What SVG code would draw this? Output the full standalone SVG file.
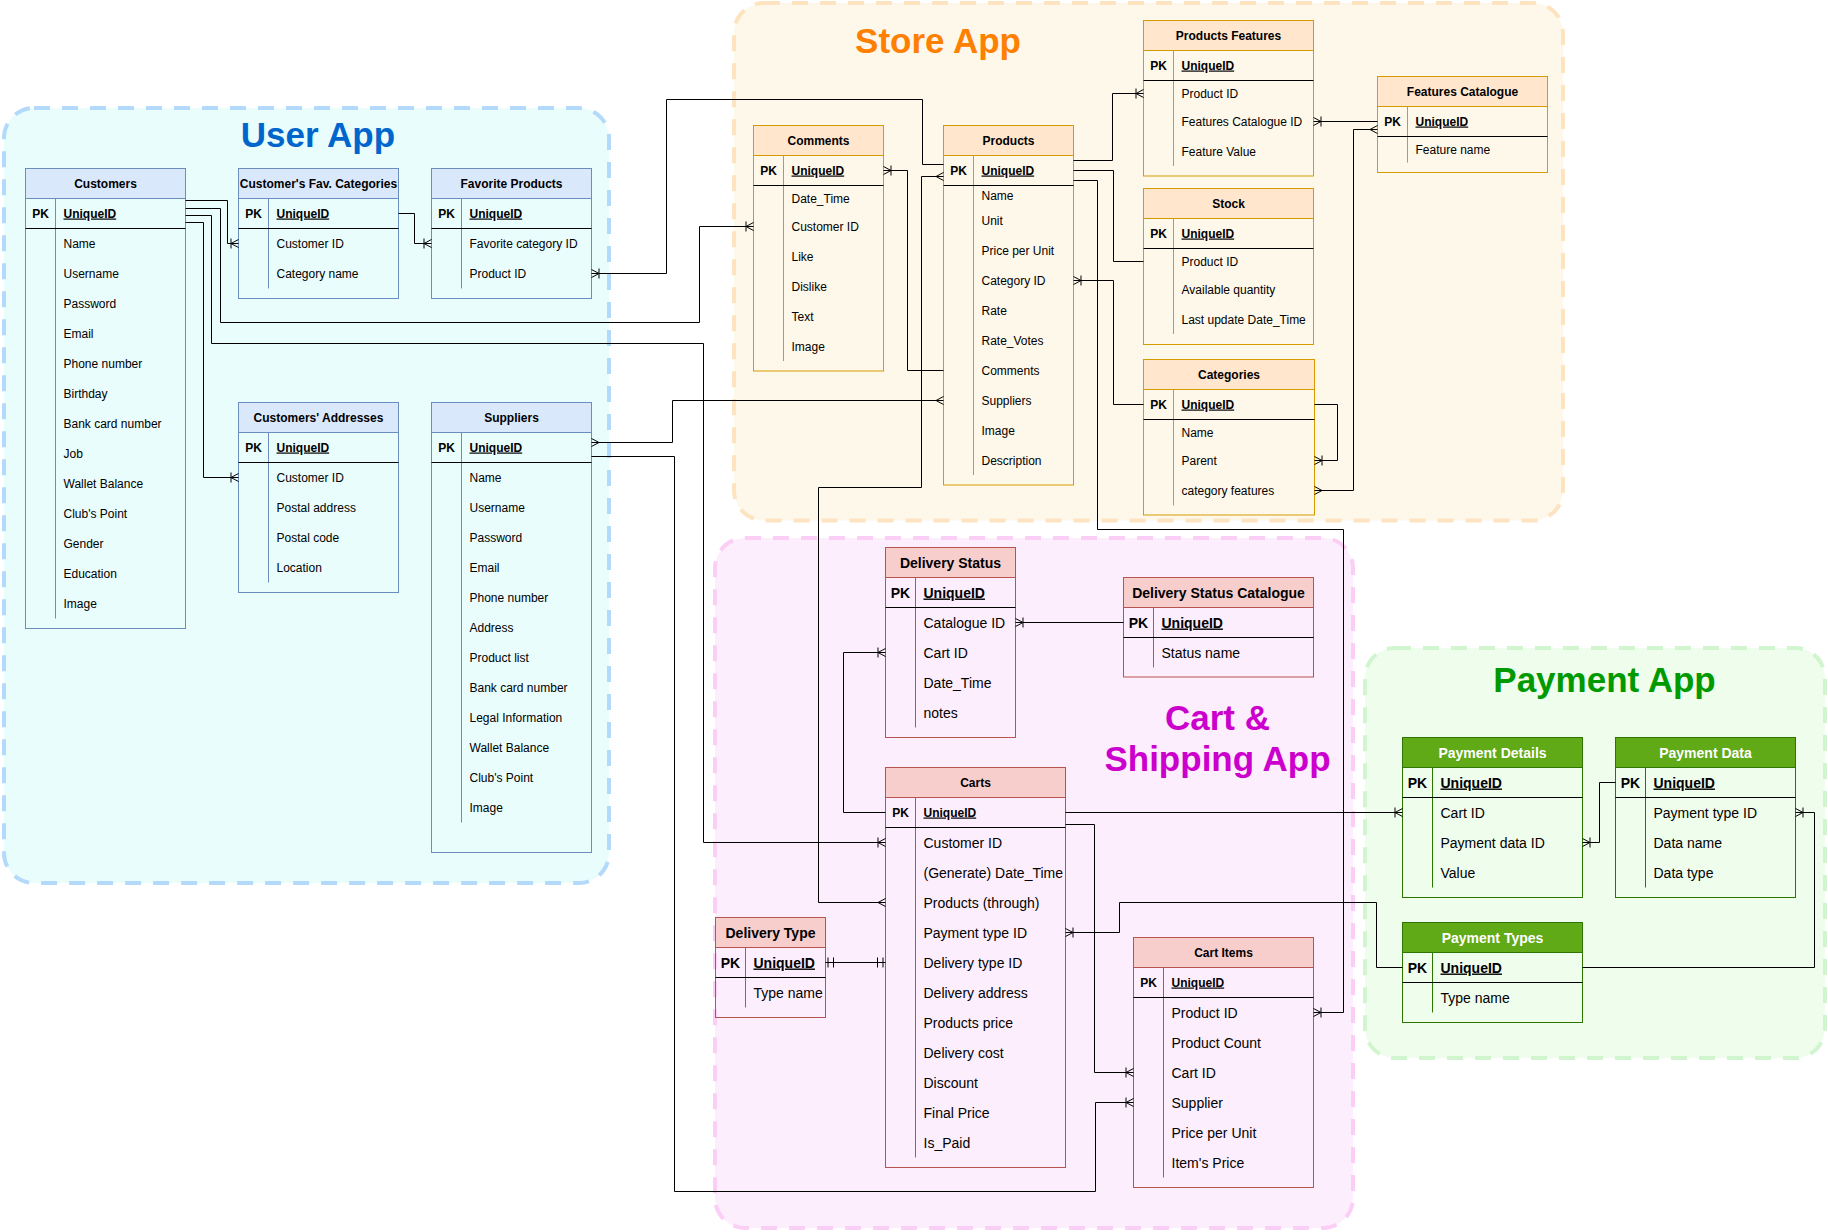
<svg xmlns="http://www.w3.org/2000/svg" width="1828" height="1232" viewBox="0 0 1828 1232">
<defs>
<style>
text{font-family:"Liberation Sans",Arial,Helvetica,sans-serif;fill:#000}
.h12{font-size:12px;font-weight:bold;text-anchor:middle}
.h14{font-size:14px;font-weight:bold;text-anchor:middle}
.pk12{font-size:12px;font-weight:bold;text-anchor:middle}
.pk14{font-size:14px;font-weight:bold;text-anchor:middle}
.u12{font-size:12px;font-weight:bold;text-decoration:underline}
.u14{font-size:14px;font-weight:bold;text-decoration:underline}
.a12{font-size:12px}
.a14{font-size:14px}
.white{fill:#fff}
.title{font-size:35px;font-weight:bold;text-anchor:middle}
.cont{stroke-width:4;stroke-dasharray:16 12}
.tb{fill:none;stroke-width:1}
.ub{stroke:#6c8ebf}.uh{fill:#dae8fc;stroke:#6c8ebf}
.sb{stroke:#d79b00}.sh{fill:#ffe6cc;stroke:#d79b00}
.cb{stroke:#b85450}.ch{fill:#f8cecc;stroke:#b85450}
.pb{stroke:#2d7600}.ph{fill:#60a917;stroke:#2d7600}
.pkl{stroke:#000;stroke-width:1}
.conn path{fill:none;stroke:#000;stroke-width:1}
</style>
<marker id="om" viewBox="-12 -7 14 14" refX="0" refY="0" markerWidth="14" markerHeight="14" markerUnits="userSpaceOnUse" orient="auto-start-reverse">
<path d="M-7.5,0 L0,-4 M-7.5,0 L0,4 M-7.5,-5 L-7.5,5" fill="none" stroke="#000" stroke-width="1"/>
</marker>
<marker id="m" viewBox="-12 -7 14 14" refX="0" refY="0" markerWidth="14" markerHeight="14" markerUnits="userSpaceOnUse" orient="auto-start-reverse">
<path d="M-7.5,0 L0,-4 M-7.5,0 L0,4" fill="none" stroke="#000" stroke-width="1"/>
</marker>
<marker id="one" viewBox="-12 -7 14 14" refX="0" refY="0" markerWidth="14" markerHeight="14" markerUnits="userSpaceOnUse" orient="auto-start-reverse">
<path d="M-2.5,-5 L-2.5,5 M-8,-5 L-8,5" fill="none" stroke="#000" stroke-width="1"/>
</marker>
</defs>

<!-- containers -->
<g id="user-app">
<rect class="cont" x="4" y="108" width="605" height="775" rx="30" fill="#e9fdfd" stroke="#b3dafa"/>
<text class="title" x="318" y="146.5" style="fill:#0066cc">User App</text>
</g>
<g id="store-app">
<rect class="cont" x="734" y="3" width="829" height="517.5" rx="30" fill="#fef8ea" stroke="#fde3c0"/>
<text class="title" x="938" y="53" style="fill:#ff8000">Store App</text>
</g>
<g id="cart-app">
<rect class="cont" x="715" y="538" width="638" height="690" rx="30" fill="#fdeefd" stroke="#fbcff5"/>
<text class="title" x="1217.5" y="730" style="fill:#cc00cc">Cart &amp;</text>
<text class="title" x="1217.5" y="770.5" style="fill:#cc00cc">Shipping App</text>
</g>
<g id="payment-app">
<rect class="cont" x="1365" y="648" width="460" height="410" rx="30" fill="#effdec" stroke="#d1f5cf"/>
<text class="title" x="1604.5" y="692" style="fill:#009900">Payment App</text>
</g>

<!-- User App tables -->
<g id="customers">
<rect class="tb ub" x="25.5" y="168.5" width="160" height="460"/>
<rect class="uh" x="25.5" y="168.5" width="160" height="30"/>
<line class="ub" x1="55.5" y1="198.5" x2="55.5" y2="618.5"/>
<line class="pkl" x1="25.5" y1="228.5" x2="185.5" y2="228.5"/>
<text class="h12" x="105.5" y="187.5">Customers</text>
<text class="pk12" x="40.5" y="217.5">PK</text>
<text class="u12" x="63.5" y="217.5">UniqueID</text>
<text class="a12" x="63.5" y="247.5">Name</text>
<text class="a12" x="63.5" y="277.5">Username</text>
<text class="a12" x="63.5" y="307.5">Password</text>
<text class="a12" x="63.5" y="337.5">Email</text>
<text class="a12" x="63.5" y="367.5">Phone number</text>
<text class="a12" x="63.5" y="397.5">Birthday</text>
<text class="a12" x="63.5" y="427.5">Bank card number</text>
<text class="a12" x="63.5" y="457.5">Job</text>
<text class="a12" x="63.5" y="487.5">Wallet Balance</text>
<text class="a12" x="63.5" y="517.5">Club's Point</text>
<text class="a12" x="63.5" y="547.5">Gender</text>
<text class="a12" x="63.5" y="577.5">Education</text>
<text class="a12" x="63.5" y="607.5">Image</text>
</g>
<g id="fav-categories">
<rect class="tb ub" x="238.5" y="168.5" width="160" height="130"/>
<rect class="uh" x="238.5" y="168.5" width="160" height="30"/>
<line class="ub" x1="268.5" y1="198.5" x2="268.5" y2="288.5"/>
<line class="pkl" x1="238.5" y1="228.5" x2="398.5" y2="228.5"/>
<text class="h12" x="318.5" y="187.5">Customer's Fav. Categories</text>
<text class="pk12" x="253.5" y="217.5">PK</text>
<text class="u12" x="276.5" y="217.5">UniqueID</text>
<text class="a12" x="276.5" y="247.5">Customer ID</text>
<text class="a12" x="276.5" y="277.5">Category name</text>
</g>
<g id="fav-products">
<rect class="tb ub" x="431.5" y="168.5" width="160" height="130"/>
<rect class="uh" x="431.5" y="168.5" width="160" height="30"/>
<line class="ub" x1="461.5" y1="198.5" x2="461.5" y2="288.5"/>
<line class="pkl" x1="431.5" y1="228.5" x2="591.5" y2="228.5"/>
<text class="h12" x="511.5" y="187.5">Favorite Products</text>
<text class="pk12" x="446.5" y="217.5">PK</text>
<text class="u12" x="469.5" y="217.5">UniqueID</text>
<text class="a12" x="469.5" y="247.5">Favorite category ID</text>
<text class="a12" x="469.5" y="277.5">Product ID</text>
</g>
<g id="addresses">
<rect class="tb ub" x="238.5" y="402.5" width="160" height="190"/>
<rect class="uh" x="238.5" y="402.5" width="160" height="30"/>
<line class="ub" x1="268.5" y1="432.5" x2="268.5" y2="582.5"/>
<line class="pkl" x1="238.5" y1="462.5" x2="398.5" y2="462.5"/>
<text class="h12" x="318.5" y="421.5">Customers' Addresses</text>
<text class="pk12" x="253.5" y="451.5">PK</text>
<text class="u12" x="276.5" y="451.5">UniqueID</text>
<text class="a12" x="276.5" y="481.5">Customer ID</text>
<text class="a12" x="276.5" y="511.5">Postal address</text>
<text class="a12" x="276.5" y="541.5">Postal code</text>
<text class="a12" x="276.5" y="571.5">Location</text>
</g>
<g id="suppliers">
<rect class="tb ub" x="431.5" y="402.5" width="160" height="450"/>
<rect class="uh" x="431.5" y="402.5" width="160" height="30"/>
<line class="ub" x1="461.5" y1="432.5" x2="461.5" y2="822.5"/>
<line class="pkl" x1="431.5" y1="462.5" x2="591.5" y2="462.5"/>
<text class="h12" x="511.5" y="421.5">Suppliers</text>
<text class="pk12" x="446.5" y="451.5">PK</text>
<text class="u12" x="469.5" y="451.5">UniqueID</text>
<text class="a12" x="469.5" y="481.5">Name</text>
<text class="a12" x="469.5" y="511.5">Username</text>
<text class="a12" x="469.5" y="541.5">Password</text>
<text class="a12" x="469.5" y="571.5">Email</text>
<text class="a12" x="469.5" y="601.5">Phone number</text>
<text class="a12" x="469.5" y="631.5">Address</text>
<text class="a12" x="469.5" y="661.5">Product list</text>
<text class="a12" x="469.5" y="691.5">Bank card number</text>
<text class="a12" x="469.5" y="721.5">Legal Information</text>
<text class="a12" x="469.5" y="751.5">Wallet Balance</text>
<text class="a12" x="469.5" y="781.5">Club's Point</text>
<text class="a12" x="469.5" y="811.5">Image</text>
</g>

<!-- Store App tables -->
<g id="comments">
<rect class="tb sb" x="753.5" y="125.5" width="130" height="245.5"/>
<rect class="sh" x="753.5" y="125.5" width="130" height="30"/>
<line class="sb" x1="783.5" y1="155.5" x2="783.5" y2="361"/>
<line class="pkl" x1="753.5" y1="185.5" x2="883.5" y2="185.5"/>
<text class="h12" x="818.5" y="144.5">Comments</text>
<text class="pk12" x="768.5" y="174.5">PK</text>
<text class="u12" x="791.5" y="174.5">UniqueID</text>
<text class="a12" x="791.5" y="202.5">Date_Time</text>
<text class="a12" x="791.5" y="230.5">Customer ID</text>
<text class="a12" x="791.5" y="260.5">Like</text>
<text class="a12" x="791.5" y="290.5">Dislike</text>
<text class="a12" x="791.5" y="320.5">Text</text>
<text class="a12" x="791.5" y="350.5">Image</text>
</g>
<g id="products">
<rect class="tb sb" x="943.5" y="125.5" width="130" height="359.5"/>
<rect class="sh" x="943.5" y="125.5" width="130" height="30"/>
<line class="sb" x1="973.5" y1="155.5" x2="973.5" y2="475"/>
<line class="pkl" x1="943.5" y1="185.5" x2="1073.5" y2="185.5"/>
<text class="h12" x="1008.5" y="144.5">Products</text>
<text class="pk12" x="958.5" y="174.5">PK</text>
<text class="u12" x="981.5" y="174.5">UniqueID</text>
<text class="a12" x="981.5" y="199.5">Name</text>
<text class="a12" x="981.5" y="224.5">Unit</text>
<text class="a12" x="981.5" y="254.5">Price per Unit</text>
<text class="a12" x="981.5" y="284.5">Category ID</text>
<text class="a12" x="981.5" y="314.5">Rate</text>
<text class="a12" x="981.5" y="344.5">Rate_Votes</text>
<text class="a12" x="981.5" y="374.5">Comments</text>
<text class="a12" x="981.5" y="404.5">Suppliers</text>
<text class="a12" x="981.5" y="434.5">Image</text>
<text class="a12" x="981.5" y="464.5">Description</text>
</g>
<g id="products-features">
<rect class="tb sb" x="1143.5" y="20.5" width="170" height="155.5"/>
<rect class="sh" x="1143.5" y="20.5" width="170" height="30"/>
<line class="sb" x1="1173.5" y1="50.5" x2="1173.5" y2="166"/>
<line class="pkl" x1="1143.5" y1="80.5" x2="1313.5" y2="80.5"/>
<text class="h12" x="1228.5" y="39.5">Products Features</text>
<text class="pk12" x="1158.5" y="69.5">PK</text>
<text class="u12" x="1181.5" y="69.5">UniqueID</text>
<text class="a12" x="1181.5" y="97.5">Product ID</text>
<text class="a12" x="1181.5" y="125.5">Features Catalogue ID</text>
<text class="a12" x="1181.5" y="155.5">Feature Value</text>
</g>
<g id="stock">
<rect class="tb sb" x="1143.5" y="188.5" width="170" height="156"/>
<rect class="sh" x="1143.5" y="188.5" width="170" height="30"/>
<line class="sb" x1="1173.5" y1="218.5" x2="1173.5" y2="334"/>
<line class="pkl" x1="1143.5" y1="248.5" x2="1313.5" y2="248.5"/>
<text class="h12" x="1228.5" y="207.5">Stock</text>
<text class="pk12" x="1158.5" y="237.5">PK</text>
<text class="u12" x="1181.5" y="237.5">UniqueID</text>
<text class="a12" x="1181.5" y="265.5">Product ID</text>
<text class="a12" x="1181.5" y="293.5">Available quantity</text>
<text class="a12" x="1181.5" y="323.5">Last update Date_Time</text>
</g>
<g id="categories">
<rect class="tb sb" x="1143.5" y="359.5" width="171" height="155.5"/>
<rect class="sh" x="1143.5" y="359.5" width="171" height="30"/>
<line class="sb" x1="1173.5" y1="389.5" x2="1173.5" y2="505.5"/>
<line class="pkl" x1="1143.5" y1="419.5" x2="1314.5" y2="419.5"/>
<text class="h12" x="1229" y="378.5">Categories</text>
<text class="pk12" x="1158.5" y="408.5">PK</text>
<text class="u12" x="1181.5" y="408.5">UniqueID</text>
<text class="a12" x="1181.5" y="436.5">Name</text>
<text class="a12" x="1181.5" y="464.5">Parent</text>
<text class="a12" x="1181.5" y="494.5">category features</text>
</g>
<g id="features-catalogue">
<rect class="tb sb" x="1377.5" y="76.5" width="170" height="96"/>
<rect class="sh" x="1377.5" y="76.5" width="170" height="30"/>
<line class="sb" x1="1407.5" y1="106.5" x2="1407.5" y2="162.5"/>
<line class="pkl" x1="1377.5" y1="136.5" x2="1547.5" y2="136.5"/>
<text class="h12" x="1462.5" y="95.5">Features Catalogue</text>
<text class="pk12" x="1392.5" y="125.5">PK</text>
<text class="u12" x="1415.5" y="125.5">UniqueID</text>
<text class="a12" x="1415.5" y="153.5">Feature name</text>
</g>

<!-- Cart & Shipping tables -->
<g id="delivery-status">
<rect class="tb cb" x="885.5" y="547.5" width="130" height="190"/>
<rect class="ch" x="885.5" y="547.5" width="130" height="30"/>
<line class="cb" x1="915.5" y1="577.5" x2="915.5" y2="727.5"/>
<line class="pkl" x1="885.5" y1="607.5" x2="1015.5" y2="607.5"/>
<text class="h14" x="950.5" y="567.5">Delivery Status</text>
<text class="pk14" x="900.5" y="597.5">PK</text>
<text class="u14" x="923.5" y="597.5">UniqueID</text>
<text class="a14" x="923.5" y="627.5">Catalogue ID</text>
<text class="a14" x="923.5" y="657.5">Cart ID</text>
<text class="a14" x="923.5" y="687.5">Date_Time</text>
<text class="a14" x="923.5" y="717.5">notes</text>
</g>
<g id="delivery-status-catalogue">
<rect class="tb cb" x="1123.5" y="577.5" width="190" height="99.5"/>
<rect class="ch" x="1123.5" y="577.5" width="190" height="30"/>
<line class="cb" x1="1153.5" y1="607.5" x2="1153.5" y2="667.5"/>
<line class="pkl" x1="1123.5" y1="637.5" x2="1313.5" y2="637.5"/>
<text class="h14" x="1218.5" y="597.5">Delivery Status Catalogue</text>
<text class="pk14" x="1138.5" y="627.5">PK</text>
<text class="u14" x="1161.5" y="627.5">UniqueID</text>
<text class="a14" x="1161.5" y="657.5">Status name</text>
</g>
<g id="carts">
<rect class="tb cb" x="885.5" y="767.5" width="180" height="400"/>
<rect class="ch" x="885.5" y="767.5" width="180" height="30"/>
<line class="cb" x1="915.5" y1="797.5" x2="915.5" y2="1157.5"/>
<line class="pkl" x1="885.5" y1="827.5" x2="1065.5" y2="827.5"/>
<text class="h12" x="975.5" y="786.5">Carts</text>
<text class="pk12" x="900.5" y="816.5">PK</text>
<text class="u12" x="923.5" y="816.5">UniqueID</text>
<text class="a14" x="923.5" y="847.5">Customer ID</text>
<text class="a14" x="923.5" y="877.5">(Generate) Date_Time</text>
<text class="a14" x="923.5" y="907.5">Products (through)</text>
<text class="a14" x="923.5" y="937.5">Payment type ID</text>
<text class="a14" x="923.5" y="967.5">Delivery type ID</text>
<text class="a14" x="923.5" y="997.5">Delivery address</text>
<text class="a14" x="923.5" y="1027.5">Products price</text>
<text class="a14" x="923.5" y="1057.5">Delivery cost</text>
<text class="a14" x="923.5" y="1087.5">Discount</text>
<text class="a14" x="923.5" y="1117.5">Final Price</text>
<text class="a14" x="923.5" y="1147.5">Is_Paid</text>
</g>
<g id="delivery-type">
<rect class="tb cb" x="715.5" y="917.5" width="110" height="100"/>
<rect class="ch" x="715.5" y="917.5" width="110" height="30"/>
<line class="cb" x1="745.5" y1="947.5" x2="745.5" y2="1007.5"/>
<line class="pkl" x1="715.5" y1="977.5" x2="825.5" y2="977.5"/>
<text class="h14" x="770.5" y="937.5">Delivery Type</text>
<text class="pk14" x="730.5" y="967.5">PK</text>
<text class="u14" x="753.5" y="967.5">UniqueID</text>
<text class="a14" x="753.5" y="997.5">Type name</text>
</g>
<g id="cart-items">
<rect class="tb cb" x="1133.5" y="937.5" width="180" height="250"/>
<rect class="ch" x="1133.5" y="937.5" width="180" height="30"/>
<line class="cb" x1="1163.5" y1="967.5" x2="1163.5" y2="1177.5"/>
<line class="pkl" x1="1133.5" y1="997.5" x2="1313.5" y2="997.5"/>
<text class="h12" x="1223.5" y="956.5">Cart Items</text>
<text class="pk12" x="1148.5" y="986.5">PK</text>
<text class="u12" x="1171.5" y="986.5">UniqueID</text>
<text class="a14" x="1171.5" y="1017.5">Product ID</text>
<text class="a14" x="1171.5" y="1047.5">Product Count</text>
<text class="a14" x="1171.5" y="1077.5">Cart ID</text>
<text class="a14" x="1171.5" y="1107.5">Supplier</text>
<text class="a14" x="1171.5" y="1137.5">Price per Unit</text>
<text class="a14" x="1171.5" y="1167.5">Item's Price</text>
</g>

<!-- Payment tables -->
<g id="payment-details">
<rect class="tb pb" x="1402.5" y="737.5" width="180" height="160"/>
<rect class="ph" x="1402.5" y="737.5" width="180" height="30"/>
<line class="pb" x1="1432.5" y1="767.5" x2="1432.5" y2="887.5"/>
<line class="pkl" x1="1402.5" y1="797.5" x2="1582.5" y2="797.5"/>
<text class="h14 white" x="1492.5" y="757.5">Payment Details</text>
<text class="pk14" x="1417.5" y="787.5">PK</text>
<text class="u14" x="1440.5" y="787.5">UniqueID</text>
<text class="a14" x="1440.5" y="817.5">Cart ID</text>
<text class="a14" x="1440.5" y="847.5">Payment data ID</text>
<text class="a14" x="1440.5" y="877.5">Value</text>
</g>
<g id="payment-data">
<rect class="tb pb" x="1615.5" y="737.5" width="180" height="160"/>
<rect class="ph" x="1615.5" y="737.5" width="180" height="30"/>
<line class="pb" x1="1645.5" y1="767.5" x2="1645.5" y2="887.5"/>
<line class="pkl" x1="1615.5" y1="797.5" x2="1795.5" y2="797.5"/>
<text class="h14 white" x="1705.5" y="757.5">Payment Data</text>
<text class="pk14" x="1630.5" y="787.5">PK</text>
<text class="u14" x="1653.5" y="787.5">UniqueID</text>
<text class="a14" x="1653.5" y="817.5">Payment type ID</text>
<text class="a14" x="1653.5" y="847.5">Data name</text>
<text class="a14" x="1653.5" y="877.5">Data type</text>
</g>
<g id="payment-types">
<rect class="tb pb" x="1402.5" y="922.5" width="180" height="100"/>
<rect class="ph" x="1402.5" y="922.5" width="180" height="30"/>
<line class="pb" x1="1432.5" y1="952.5" x2="1432.5" y2="1012.5"/>
<line class="pkl" x1="1402.5" y1="982.5" x2="1582.5" y2="982.5"/>
<text class="h14 white" x="1492.5" y="942.5">Payment Types</text>
<text class="pk14" x="1417.5" y="972.5">PK</text>
<text class="u14" x="1440.5" y="972.5">UniqueID</text>
<text class="a14" x="1440.5" y="1002.5">Type name</text>
</g>

<!-- connectors -->
<g id="connectors" class="conn">
<path d="M185.5,200.5 H227.5 V243.5 H238.5" marker-end="url(#om)"/>
<path d="M185.5,208.5 H220.5 V322.5 H699.5 V226.5 H753.5" marker-end="url(#om)"/>
<path d="M185.5,215.5 H211.5 V343.5 H703.5 V842.5 H885.5" marker-end="url(#om)"/>
<path d="M185.5,222.5 H203.5 V477.5 H238.5" marker-end="url(#om)"/>
<path d="M398.5,213.5 H414.5 V243.5 H431.5" marker-end="url(#om)"/>
<path d="M591.5,273.5 H666.5 V99.5 H922.5 V164.5 H943.5" marker-start="url(#om)"/>
<path d="M883.5,170.5 H907.5 V370.5 H943.5" marker-start="url(#om)"/>
<path d="M943.5,176.5 H921.5 V487.5 H818.5 V902.5 H885.5" marker-start="url(#m)" marker-end="url(#m)"/>
<path d="M591.5,442.5 H672.5 V400.5 H943.5" marker-start="url(#m)" marker-end="url(#m)"/>
<path d="M591.5,456.5 H674.5 V1191.5 H1095.5 V1102.5 H1133.5" marker-end="url(#om)"/>
<path d="M1073.5,160.5 H1112.5 V93.5 H1143.5" marker-end="url(#om)"/>
<path d="M1073.5,170.5 H1113.5 V261.5 H1143.5"/>
<path d="M1073.5,180.5 H1097.5 V529.5 H1343.5 V1012.5 H1313.5" marker-end="url(#om)"/>
<path d="M1073.5,280.5 H1113.5 V404.5 H1143.5" marker-start="url(#om)"/>
<path d="M1314.5,404.5 H1337.5 V460.5 H1314.5" marker-end="url(#om)"/>
<path d="M1314.5,490.5 H1353.5 V129.5 H1377.5" marker-start="url(#m)" marker-end="url(#m)"/>
<path d="M1313.5,121.5 H1377.5" marker-start="url(#om)"/>
<path d="M1123.5,622.5 H1015.5" marker-end="url(#om)"/>
<path d="M885.5,812.5 H843.5 V652.5 H885.5" marker-end="url(#om)"/>
<path d="M1065.5,812.5 H1402.5" marker-end="url(#om)"/>
<path d="M1065.5,824.5 H1094.5 V1072.5 H1133.5" marker-end="url(#om)"/>
<path d="M1065.5,932.5 H1119.5 V902.5 H1376.5 V967.5 H1402.5" marker-start="url(#om)"/>
<path d="M825.5,962.5 H885.5" marker-start="url(#one)" marker-end="url(#one)"/>
<path d="M1615.5,782.5 H1599.5 V842.5 H1582.5" marker-end="url(#om)"/>
<path d="M1582.5,967.5 H1814.5 V812.5 H1795.5" marker-end="url(#om)"/>
</g>
</svg>
